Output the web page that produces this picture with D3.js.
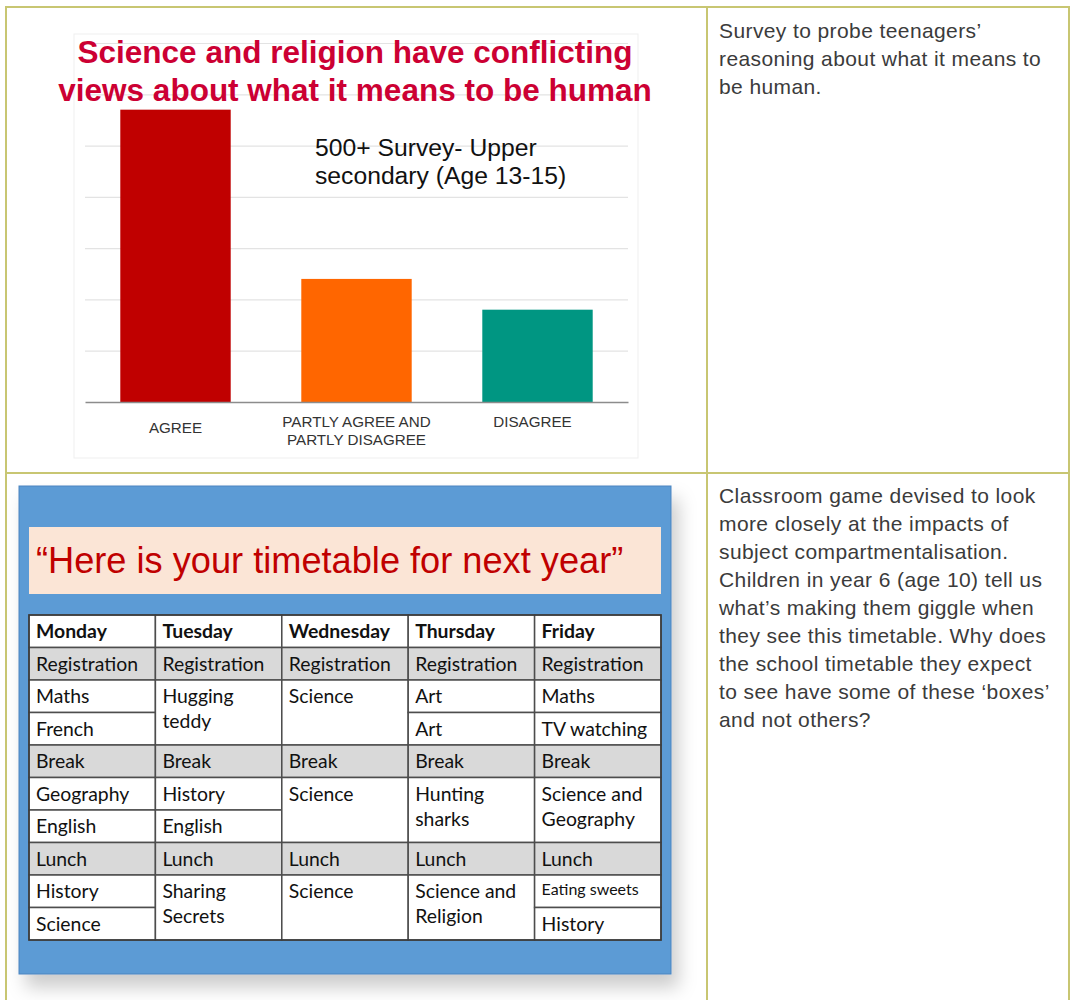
<!DOCTYPE html>
<html>
<head>
<meta charset="utf-8">
<script src="https://cdn.jsdelivr.net/npm/d3@7"></script>
<style>
  html, body { margin: 0; padding: 0; background: #fff; }
  svg { display: block; }
</style>
</head>
<body>
<svg id="page" width="1071" height="1000"></svg>
<script>
// survey chart data (percent of respondents)
var categories = ['AGREE', 'PARTLY AGREE AND|PARTLY DISAGREE', 'DISAGREE'];
var values = [57, 24, 18];
var barColors = ['#c00000', '#ff6600', '#009682'];
var gridTicks = [0, 10, 20, 30, 40, 50, 60, 70];
var chartTitle = ['Science and religion have conflicting', 'views about what it means to be human'];
var chartNote = ['500+ Survey- Upper', 'secondary (Age 13-15)'];

// timetable data: [text, rows spanned]
var days = ['Monday', 'Tuesday', 'Wednesday', 'Thursday', 'Friday'];
var monday = [['Registration', 1], ['Maths', 1], ['French', 1], ['Break', 1], ['Geography', 1], ['English', 1], ['Lunch', 1], ['History', 1], ['Science', 1]];
var tuesday = [['Registration', 1], ['Hugging|teddy', 2], ['Break', 1], ['History', 1], ['English', 1], ['Lunch', 1], ['Sharing|Secrets', 2]];
var wednesday = [['Registration', 1], ['Science', 2], ['Break', 1], ['Science', 2], ['Lunch', 1], ['Science', 2]];
var thursday = [['Registration', 1], ['Art', 1], ['Art', 1], ['Break', 1], ['Hunting|sharks', 2], ['Lunch', 1], ['Science and|Religion', 2]];
var friday = [['Registration', 1], ['Maths', 1], ['TV watching', 1], ['Break', 1], ['Science and|Geography', 2], ['Lunch', 1], ['Eating sweets', 1], ['History', 1]];
var shadedSlots = [0, 3, 6];
var timetableTitle = '\u201cHere is your timetable for next year\u201d';

// captions
var caption1 = ['Survey to probe teenagers\u2019', 'reasoning about what it means to', 'be human.'];
var caption2 = ['Classroom game devised to look', 'more closely at the impacts of', 'subject compartmentalisation.',
  'Children in year 6 (age 10) tell us', 'what\u2019s making them giggle when', 'they see this timetable. Why does',
  'the school timetable they expect', 'to see have some of these \u2018boxes\u2019', 'and not others?'];

var svg = d3.select('#page');
var sans = '"Liberation Sans", Arial, Helvetica, sans-serif';
var calib = 'Lato, "Open Sans", sans-serif';

svg.append('rect').attr('width', 1071).attr('height', 1000).attr('fill', '#fff');

var defs = svg.append('defs');
var shadow = defs.append('filter').attr('id', 'shadow')
  .attr('x', '-10%').attr('y', '-10%').attr('width', '130%').attr('height', '130%');
shadow.append('feDropShadow')
  .attr('dx', 7).attr('dy', 13).attr('stdDeviation', 9)
  .attr('flood-color', '#000').attr('flood-opacity', 0.2);

// ---- bar chart ----
function drawChart ( ) {
  var g = svg.append('g');
  g.append('rect')
    .attr('x', 74).attr('y', 34).attr('width', 564).attr('height', 424)
    .attr('fill', '#fff').attr('stroke', '#efefef');

  var x = d3.scaleBand().domain(categories).range([85, 628]).paddingInner(0.39).paddingOuter(0.195);
  var y = d3.scaleLinear().domain([0, 70]).range([402, 43]);

  var grid = g.append('g').attr('transform', 'translate(85,0)')
    .call(d3.axisLeft(y).tickValues(gridTicks.slice(1)).tickSize(-543).tickFormat(''));
  grid.select('.domain').remove();
  grid.selectAll('.tick line').attr('stroke', '#e3e3e3').attr('stroke-width', 1.2);

  g.selectAll('rect.bar')
    .data(values)
    .enter( ).append('rect')
    .attr('class', 'bar')
    .attr('x', function (d, i) { return x(categories[i]); })
    .attr('y', function (d) { return y(d); })
    .attr('width', x.bandwidth( ))
    .attr('height', function (d) { return y(0) - y(d); })
    .attr('fill', function (d, i) { return barColors[i]; });

  var axis = g.append('g').attr('transform', 'translate(0,' + y(0) + ')')
    .call(d3.axisBottom(x).tickSize(0).tickFormat(''));
  axis.select('.domain').attr('stroke', '#8c8c8c').attr('stroke-width', 1.5);

  categories.forEach(function (c, i) {
    var lines = c.split('|');
    var cx = x(c) + x.bandwidth( ) / 2;
    // the first label sits a little lower than the others in the source
    var base = i === 0 ? 433 : 426.5;
    var t = g.append('text')
      .attr('text-anchor', 'middle')
      .attr('font-family', sans).attr('font-size', 15.2).attr('fill', '#333');
    lines.forEach(function (l, j) {
      t.append('tspan').attr('x', i === 2 ? cx - 5 : cx).attr('y', base + j * 18).text(l);
    });
  });

  chartTitle.forEach(function (l, j) {
    g.append('text')
      .attr('x', 355).attr('y', 63 + j * 37.5)
      .attr('text-anchor', 'middle')
      .attr('font-family', sans).attr('font-weight', 'bold').attr('font-size', 31.5)
      .attr('fill', '#cc0033').text(l);
  });

  chartNote.forEach(function (l, j) {
    g.append('text')
      .attr('x', 315).attr('y', 156 + j * 28)
      .attr('font-family', sans).attr('font-size', 24.7)
      .attr('fill', '#111').text(l);
  });
}

// ---- timetable slide ----
function drawTimetable ( ) {
  var g = svg.append('g');
  g.append('rect')
    .attr('x', 19).attr('y', 486).attr('width', 652).attr('height', 488)
    .attr('fill', '#5b9bd5').attr('stroke', '#4a84bf').attr('stroke-width', 1)
    .attr('filter', 'url(#shadow)');

  g.append('rect')
    .attr('x', 29).attr('y', 527).attr('width', 632).attr('height', 67)
    .attr('fill', '#fbe5d6');
  g.append('text')
    .attr('x', 36).attr('y', 573)
    .attr('font-family', sans).attr('font-size', 36.2)
    .attr('fill', '#c00000').text(timetableTitle);

  var col = d3.scaleBand().domain(days).range([29, 661]);
  var row = d3.scaleLinear().domain([0, 10]).range([615, 940]);
  var columns = [monday, tuesday, wednesday, thursday, friday];

  var cells = [];
  days.forEach(function (day, i) {
    cells.push({ day: day, start: -1, span: 1, text: day, head: true });
    var slot = 0;
    columns[i].forEach(function (c) {
      cells.push({ day: day, start: slot, span: c[1], text: c[0], head: false });
      slot += c[1];
    });
  });

  var cell = g.selectAll('g.cell')
    .data(cells)
    .enter( ).append('g').attr('class', 'cell');

  cell.append('rect')
    .attr('x', function (d) { return col(d.day); })
    .attr('y', function (d) { return row(d.start + 1); })
    .attr('width', col.bandwidth( ))
    .attr('height', function (d) { return row(d.start + 1 + d.span) - row(d.start + 1); })
    .attr('fill', function (d) {
      return (!d.head && d.span === 1 && shadedSlots.indexOf(d.start) >= 0) ? '#d9d9d9' : '#fff';
    })
    .attr('stroke', '#4d4d4d').attr('stroke-width', 1.5);

  cell.append('text')
    .attr('font-family', calib)
    .attr('font-size', function (d) { return d.text === 'Eating sweets' ? 16 : 19.4; })
    .attr('font-weight', function (d) { return d.head ? 'bold' : 'normal'; })
    .attr('fill', '#111')
    .each(function (d) {
      var t = d3.select(this);
      var top = row(d.start + 1);
      var first = d.text === 'Eating sweets' ? 20 : 23;
      d.text.split('|').forEach(function (l, j) {
        t.append('tspan').attr('x', col(d.day) + 7).attr('y', top + first + j * 25).text(l);
      });
    });

  g.append('rect')
    .attr('x', 29).attr('y', 615).attr('width', 632).attr('height', 325)
    .attr('fill', 'none').attr('stroke', '#3a3a3a').attr('stroke-width', 1.5);
}

// ---- captions and frame ----
function drawCaptions ( ) {
  [[caption1, 38], [caption2, 503]].forEach(function (c) {
    var t = svg.append('text')
      .attr('font-family', sans).attr('font-size', 21).attr('letter-spacing', 0.4)
      .attr('fill', '#3b3b3b');
    c[0].forEach(function (l, j) {
      t.append('tspan').attr('x', 719).attr('y', c[1] + j * 28).text(l);
    });
  });

  var frame = svg.append('g').attr('stroke', '#c8c672').attr('stroke-width', 2).attr('fill', 'none');
  frame.append('line').attr('x1', 6).attr('y1', 7).attr('x2', 1070).attr('y2', 7);
  frame.append('line').attr('x1', 6).attr('y1', 473).attr('x2', 1070).attr('y2', 473);
  frame.append('line').attr('x1', 6).attr('y1', 6).attr('x2', 6).attr('y2', 1000);
  frame.append('line').attr('x1', 707).attr('y1', 6).attr('x2', 707).attr('y2', 1000);
  frame.append('line').attr('x1', 1069).attr('y1', 6).attr('x2', 1069).attr('y2', 1000);
}

drawChart( );
drawTimetable( );
drawCaptions( );
</script>
</body>
</html>
